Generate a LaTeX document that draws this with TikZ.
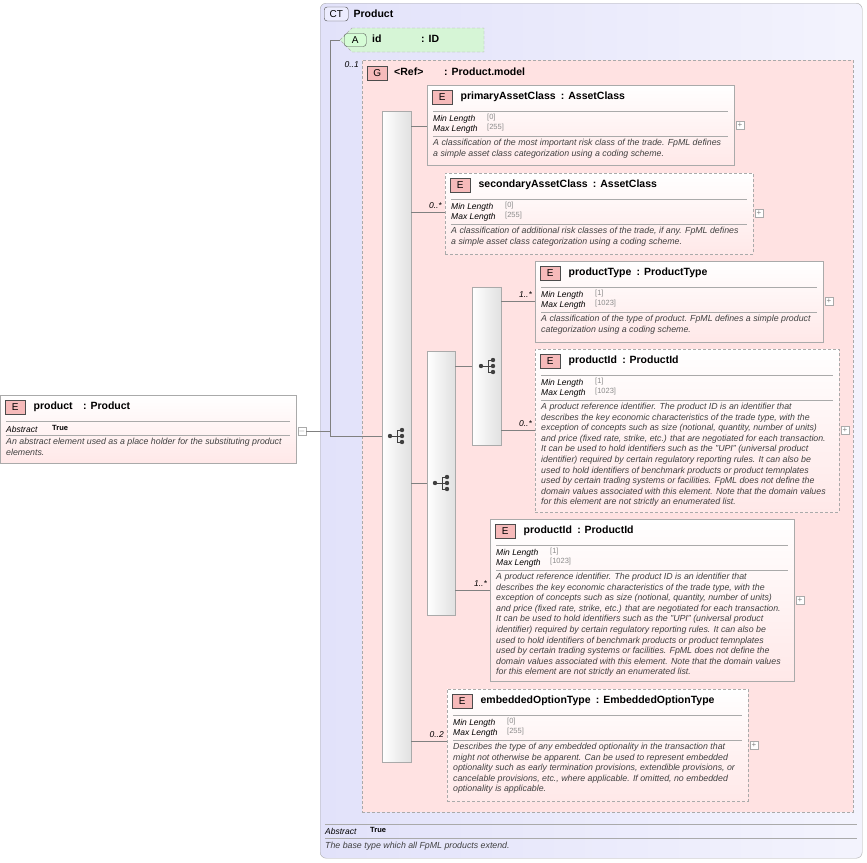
\documentclass[tikz,border=0pt]{standalone}
\usepackage{fontspec}
\setmainfont{Liberation Sans}
\usetikzlibrary{positioning}
\definecolor{ctfill}{RGB}{226,226,250}
\definecolor{gfill}{RGB}{255,226,226}
\definecolor{efill}{RGB}{255,232,232}
\definecolor{afill}{RGB}{214,245,214}
\definecolor{frame}{RGB}{170,170,170}
\definecolor{badge}{RGB}{240,140,140}
\tikzset{
  elem/.style={draw=frame,top color=white,bottom color=efill,inner sep=0pt},
  opt/.style={dash pattern=on 3pt off 2pt},
  tag/.style={draw=black!70,fill=badge!60,font=\fontsize{10}{11}\selectfont,minimum width=20pt,minimum height=14pt,inner sep=0pt},
  ttl/.style={font=\bfseries\fontsize{10.5}{12}\selectfont,anchor=west,inner sep=0pt},
  fac/.style={font=\itshape\fontsize{8.5}{9}\selectfont,anchor=west,inner sep=0pt},
  val/.style={font=\fontsize{7.5}{8}\selectfont,text=black!45,anchor=west,inner sep=0pt},
  desc/.style={font=\itshape\fontsize{8.8}{10.6}\selectfont,text=black!75,anchor=north west,align=left,inner sep=0pt},
  card/.style={font=\itshape\fontsize{8.5}{9}\selectfont,anchor=south east,inner sep=1pt},
  link/.style={draw=black!50,line width=0.5pt},
  bar/.style={draw=frame,left color=white,right color=black!12,inner sep=0pt,anchor=north west},
  plus/.style={draw=frame,fill=white,minimum size=8pt,inner sep=0pt,font=\fontsize{8}{8}\selectfont,text=black!50}
}
% box: name, left, top, width, height, style, title, min, max
\newcommand\elembox[9]{%
  \node[elem,#6,minimum width=#4pt,minimum height=#5pt,anchor=north west] (#1) at (#2,#3) {};
  \node[tag,anchor=west] (#1t) at (#2+5,#3+12) {E};
  \node[ttl,right=8pt of #1t] {#7};
  \draw[frame] (#2+6,#3+26) -- (#2+#4-6,#3+26);
  \node[fac] at (#2+6,#3+34) {Min Length};
  \node[val] at (#2+60,#3+33) {[#8]};
  \node[fac] at (#2+6,#3+44) {Max Length};
  \node[val] at (#2+60,#3+43) {[#9]};
  \draw[frame] (#2+6,#3+51) -- (#2+#4-6,#3+51);
  \node[plus] (#1p) at (#2+#4+6,#3+#5/2) {+};
}
\newcommand\seqicon[2]{%
  \fill[black!75] (#1-8,#2) circle (2.2pt);
  \draw[black!75,line width=0.7pt] (#1-8,#2) -- (#1+4,#2)
    (#1-1,#2-6) -- (#1-1,#2+6)
    (#1-1,#2-6) -- (#1+4,#2-6)
    (#1-1,#2+6) -- (#1+4,#2+6);
  \fill[black!75] (#1+4,#2-6) circle (2.2pt) (#1+4,#2) circle (2.2pt) (#1+4,#2+6) circle (2.2pt);
}
\begin{document}
\begin{tikzpicture}[x=1pt,y=-1pt]
\useasboundingbox (0,0) rectangle (867,862);
% complex type
\node[draw=frame,rounded corners=6pt,left color=ctfill,right color=ctfill!40,minimum width=542pt,minimum height=855pt,anchor=north west] (ct) at (320,3) {};
\node[draw=black!70,fill=ctfill!70!blue!20,rounded corners=3pt,font=\fontsize{10}{11}\selectfont,minimum width=24pt,minimum height=14pt,inner sep=0pt,anchor=west] (ctt) at (324,14) {CT};
\node[ttl,right=5pt of ctt] {Product};
\draw[frame] (325,824) -- (857,824);
\node[fac] at (325,831) {Abstract};
\node[font=\bfseries\fontsize{7.5}{8}\selectfont,anchor=west,inner sep=0pt] at (370,830) {True};
\draw[frame] (325,838) -- (857,838);
\node[desc] at (325,842) {The base type which all FpML products extend.};
% attribute
\draw[opt,draw=frame,fill=afill] (352,28) -- (484,28) -- (484,52) -- (352,52) -- (340,40) -- cycle;
\coordinate (attr) at (340,40);
\node[draw=black!70,fill=afill!70!green!40,rounded corners=3pt,font=\fontsize{10}{11}\selectfont,minimum width=22pt,minimum height=13pt,inner sep=0pt,anchor=west] (at) at (344,40) {A};
\node[ttl] at (372,39) {id};
\node[ttl] at (421,39) {: ID};
% group
\node[draw=frame,opt,fill=gfill,minimum width=491pt,minimum height=752pt,anchor=north west] (grp) at (362,60) {};
\node[tag,anchor=west] (gt) at (367,73) {G};
\node[ttl] at (394,72) {<Ref>};
\node[ttl] at (444,72) {: Product.model};
\node[card] at (360,69) {0..1};
% sequences
\node[bar,minimum width=29pt,minimum height=651pt] (s1) at (382,111) {};
\node[bar,minimum width=28pt,minimum height=264pt] (s2) at (427,351) {};
\node[bar,minimum width=29pt,minimum height=158pt] (s3) at (472,287) {};
\seqicon{398}{436}
\seqicon{443}{483}
\seqicon{489}{366}
% elements
\elembox{pac}{427}{85}{307}{80}{}{primaryAssetClass\enspace: AssetClass}{0}{255}
\node[desc] at (433,139) {A classification of the most important risk class of the trade. FpML defines\\a simple asset class categorization using a coding scheme.};
\elembox{sac}{445}{173}{308}{81}{opt}{secondaryAssetClass\enspace: AssetClass}{0}{255}
\node[desc] at (451,227) {A classification of additional risk classes of the trade, if any. FpML defines\\a simple asset class categorization using a coding scheme.};
\elembox{pt}{535}{261}{288}{81}{}{productType\enspace: ProductType}{1}{1023}
\node[desc] at (541,315) {A classification of the type of product. FpML defines a simple product\\categorization using a coding scheme.};
\elembox{pia}{535}{349}{304}{163}{opt}{productId\enspace: ProductId}{1}{1023}
\node[desc] at (541,403) {A product reference identifier. The product ID is an identifier that\\describes the key economic characteristics of the trade type, with the\\exception of concepts such as size (notional, quantity, number of units)\\and price (fixed rate, strike, etc.) that are negotiated for each transaction.\\It can be used to hold identifiers such as the "UPI" (universal product\\identifier) required by certain regulatory reporting rules. It can also be\\used to hold identifiers of benchmark products or product temnplates\\used by certain trading systems or facilities. FpML does not define the\\domain values associated with this element. Note that the domain values\\for this element are not strictly an enumerated list.};
\elembox{pib}{490}{519}{304}{162}{}{productId\enspace: ProductId}{1}{1023}
\node[desc] at (496,573) {A product reference identifier. The product ID is an identifier that\\describes the key economic characteristics of the trade type, with the\\exception of concepts such as size (notional, quantity, number of units)\\and price (fixed rate, strike, etc.) that are negotiated for each transaction.\\It can be used to hold identifiers such as the "UPI" (universal product\\identifier) required by certain regulatory reporting rules. It can also be\\used to hold identifiers of benchmark products or product temnplates\\used by certain trading systems or facilities. FpML does not define the\\domain values associated with this element. Note that the domain values\\for this element are not strictly an enumerated list.};
\elembox{eot}{447}{689}{301}{112}{opt}{embeddedOptionType\enspace: EmbeddedOptionType}{0}{255}
\node[desc] at (453,743) {Describes the type of any embedded optionality in the transaction that\\might not otherwise be apparent. Can be used to represent embedded\\optionality such as early termination provisions, extendible provisions, or\\cancelable provisions, etc., where applicable. If omitted, no embedded\\optionality is applicable.};
% root element
\node[elem,minimum width=296pt,minimum height=68pt,anchor=north west] (prod) at (0,395) {};
\node[tag,anchor=west] (prodt) at (5,407) {E};
\node[ttl,right=8pt of prodt] {product\enspace\enspace: Product};
\draw[frame] (6,421) -- (290,421);
\node[fac] at (6,429) {Abstract};
\node[font=\bfseries\fontsize{7.5}{8}\selectfont,anchor=west,inner sep=0pt] at (52,428) {True};
\draw[frame] (6,435) -- (290,435);
\node[desc] at (6,438) {An abstract element used as a place holder for the substituting product\\elements.};
\node[plus] (prodp) at (302,431) {$-$};
% connectors
\coordinate (r126) at (0,126);
\coordinate (r212) at (0,212);
\coordinate (r301) at (0,301);
\coordinate (r366) at (0,366);
\coordinate (r430) at (0,430);
\coordinate (r432) at (330,431);
\coordinate (r483) at (0,483);
\coordinate (r590) at (0,590);
\coordinate (r741) at (0,741);
\draw[link] (prodp) -- (r432) |- (attr);
\draw[link] (r432) |- (s1.west |- 0,436);
\draw[link] (s1.east |- r126) -- (pac.west |- r126);
\draw[link] (s1.east |- r212) -- (sac.west |- r212);
\node[card] at (443,210) {0..*};
\draw[link] (s1.east |- r483) -- (s2.west |- r483);
\draw[link] (s1.east |- r741) -- (eot.west |- r741);
\node[card] at (445,739) {0..2};
\draw[link] (s2.east |- r366) -- (s3.west |- r366);
\draw[link] (s2.east |- r590) -- (pib.west |- r590);
\node[card] at (488,588) {1..*};
\draw[link] (s3.east |- r301) -- (pt.west |- r301);
\node[card] at (533,299) {1..*};
\draw[link] (s3.east |- r430) -- (pia.west |- r430);
\node[card] at (533,428) {0..*};
\end{tikzpicture}
\end{document}
